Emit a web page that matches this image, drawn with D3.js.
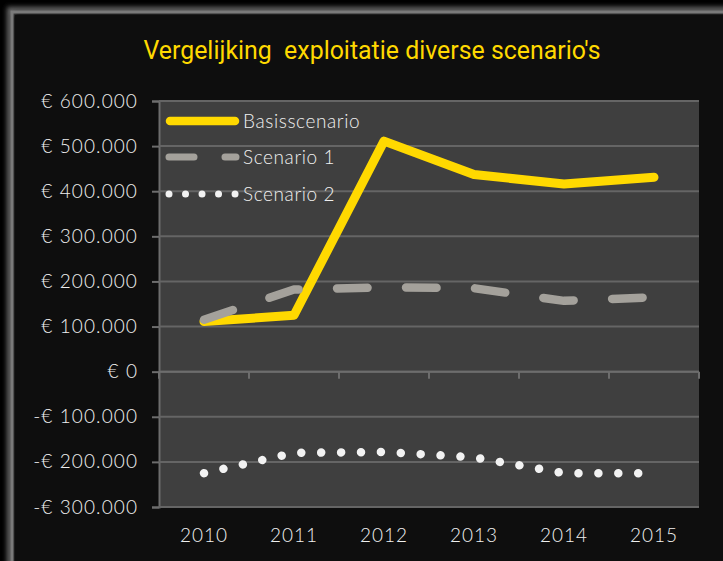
<!DOCTYPE html>
<html><head><meta charset="utf-8">
<script src="https://cdn.jsdelivr.net/npm/d3@7/dist/d3.min.js"></script>
<style>html,body{margin:0;padding:0;background:#000;}svg{display:block;}</style>
</head><body>
<script>
const categories = ["2010","2011","2012","2013","2014","2015"];
const basisscenario = [111000, 125000, 511000, 437000, 416000, 431000];
const scenario1 = [115000, 182000, 187000, 185000, 157000, 165000];
const scenario2 = [-225000, -180000, -178000, -190000, -225000, -225000];
const yTicks = [600000,500000,400000,300000,200000,100000,0,-100000,-200000,-300000];
const seriesNames = ["Basisscenario","Scenario 1","Scenario 2"];
const title = "Vergelijking  exploitatie diverse scenario's";

const W = 723, H = 561;
const FONT = "Lato, 'Open Sans', sans-serif";
const svg = d3.select("body").append("svg").attr("width", W).attr("height", H);

// background and frame
svg.append("rect").attr("width", W).attr("height", H).attr("fill", "#000");
const defs = svg.append("defs");
const f = defs.append("filter").attr("id","glow").attr("x","-5%").attr("y","-5%").attr("width","110%").attr("height","110%");
f.append("feGaussianBlur").attr("stdDeviation", 2.5);
svg.append("rect").attr("x", 10).attr("y", 10).attr("width", W + 20).attr("height", H + 20)
  .attr("fill", "none").attr("stroke", "#6a6a6a").attr("stroke-width", 6).attr("filter","url(#glow)");
svg.append("rect").attr("x", 12).attr("y", 12).attr("width", W + 20).attr("height", H + 20)
  .attr("fill", "none").attr("stroke", "#7a7a7a").attr("stroke-width", 3);
svg.append("rect").attr("x", 15).attr("y", 15).attr("width", W).attr("height", H).attr("fill", "#0e0e0e");

const L = 159, R = 699, T = 101, B = 507;
const x = d3.scaleBand().domain(categories).range([L, R]);
const y = d3.scaleLinear().domain([-300000, 600000]).range([B, T]);
const cx = d => x(d) + x.bandwidth() / 2;

svg.append("rect").attr("x", L).attr("y", T).attr("width", R - L).attr("height", B - T).attr("fill", "#3f3f3f");

const fmt = v => (v < 0 ? "-€ " : "€ ") + (v === 0 ? "0" : d3.format(",")(Math.abs(v)).replace(/,/g, "."));

// y axis
const yAxis = d3.axisLeft(y).tickValues(yTicks).tickSize(7).tickPadding(14).tickFormat(fmt);
const gy = svg.append("g").attr("transform", `translate(${L},0)`).call(yAxis);
gy.select(".domain").attr("stroke", "#6d6d6d").attr("stroke-width", 2);
gy.selectAll(".tick line").attr("stroke", "#6d6d6d").attr("stroke-width", 2);
gy.selectAll(".tick text").attr("fill", "#f0f0f0").attr("font-family", FONT).attr("font-weight", 300)
  .attr("font-size", 19).attr("letter-spacing", "1.1px");

// gridlines
svg.append("g").selectAll("line").data(yTicks).join("line")
  .attr("x1", L).attr("x2", R).attr("y1", d => y(d)).attr("y2", d => y(d))
  .attr("stroke", "#656565").attr("stroke-width", 2);

// x axis at zero with ticks down, labels low
const gx = svg.append("g").attr("transform", `translate(0,${y(0)})`);
gx.append("line").attr("x1", L).attr("x2", R).attr("stroke", "#6d6d6d").attr("stroke-width", 2);
gx.selectAll("line.tk").data(d3.range(categories.length + 1)).join("line").attr("class","tk")
  .attr("x1", i => L + i * x.step()).attr("x2", i => L + i * x.step())
  .attr("y1", 0).attr("y2", 7).attr("stroke", "#6d6d6d").attr("stroke-width", 2);
svg.append("g").selectAll("text").data(categories).join("text")
  .attr("x", d => cx(d)).attr("y", 542).attr("text-anchor", "middle")
  .attr("fill", "#f0f0f0").attr("font-family", FONT).attr("font-weight", 300)
  .attr("font-size", 19).attr("letter-spacing", "1px")
  .text(d => d);

// lines
const line = d3.line().x((d,i) => cx(categories[i])).y(d => y(d));
svg.append("path").datum(basisscenario).attr("d", line).attr("fill", "none")
  .attr("stroke", "#ffd900").attr("stroke-width", 9).attr("stroke-linejoin", "round").attr("stroke-linecap", "round");
svg.append("path").datum(scenario1).attr("d", line).attr("fill", "none")
  .attr("stroke", "#a4a19b").attr("stroke-width", 8.5).attr("stroke-linejoin", "round").attr("stroke-linecap", "round")
  .attr("stroke-dasharray", "30.5,38.5");
svg.append("path").datum(scenario2).attr("d", line).attr("fill", "none")
  .attr("stroke", "#f2f2f2").attr("stroke-width", 8.5).attr("stroke-linecap", "round")
  .attr("stroke-dasharray", "0.01,19.9");

// legend
const leg = svg.append("g");
const ly = [121, 157, 194];
leg.append("line").attr("x1", 170).attr("x2", 235).attr("y1", ly[0]).attr("y2", ly[0])
  .attr("stroke", "#ffd900").attr("stroke-width", 8.5).attr("stroke-linecap", "round");
leg.append("line").attr("x1", 169).attr("x2", 236).attr("y1", ly[1]).attr("y2", ly[1])
  .attr("stroke", "#a4a19b").attr("stroke-width", 7).attr("stroke-linecap", "round").attr("stroke-dasharray", "25,31");
leg.append("line").attr("x1", 169).attr("x2", 236).attr("y1", ly[2]).attr("y2", ly[2])
  .attr("stroke", "#f2f2f2").attr("stroke-width", 7).attr("stroke-linecap", "round").attr("stroke-dasharray", "0.01,16.5");
leg.selectAll("text").data(seriesNames).join("text")
  .attr("x", 243).attr("y", (d,i) => ly[i] + 7)
  .attr("fill", "#f0f0f0").attr("font-family", FONT).attr("font-weight", 300)
  .attr("font-size", 19).attr("letter-spacing", "0.6px")
  .text(d => d);

// title
svg.append("text").attr("x", 372).attr("y", 59).attr("text-anchor", "middle")
  .attr("xml:space", "preserve").style("white-space", "pre")
  .attr("fill", "#ffd900").attr("font-family", "'Liberation Sans Narrow', 'Roboto', sans-serif").attr("font-size", 25)
  .attr("textLength", 457).attr("lengthAdjust", "spacingAndGlyphs")
  .text(title);
</script>
</body></html>
